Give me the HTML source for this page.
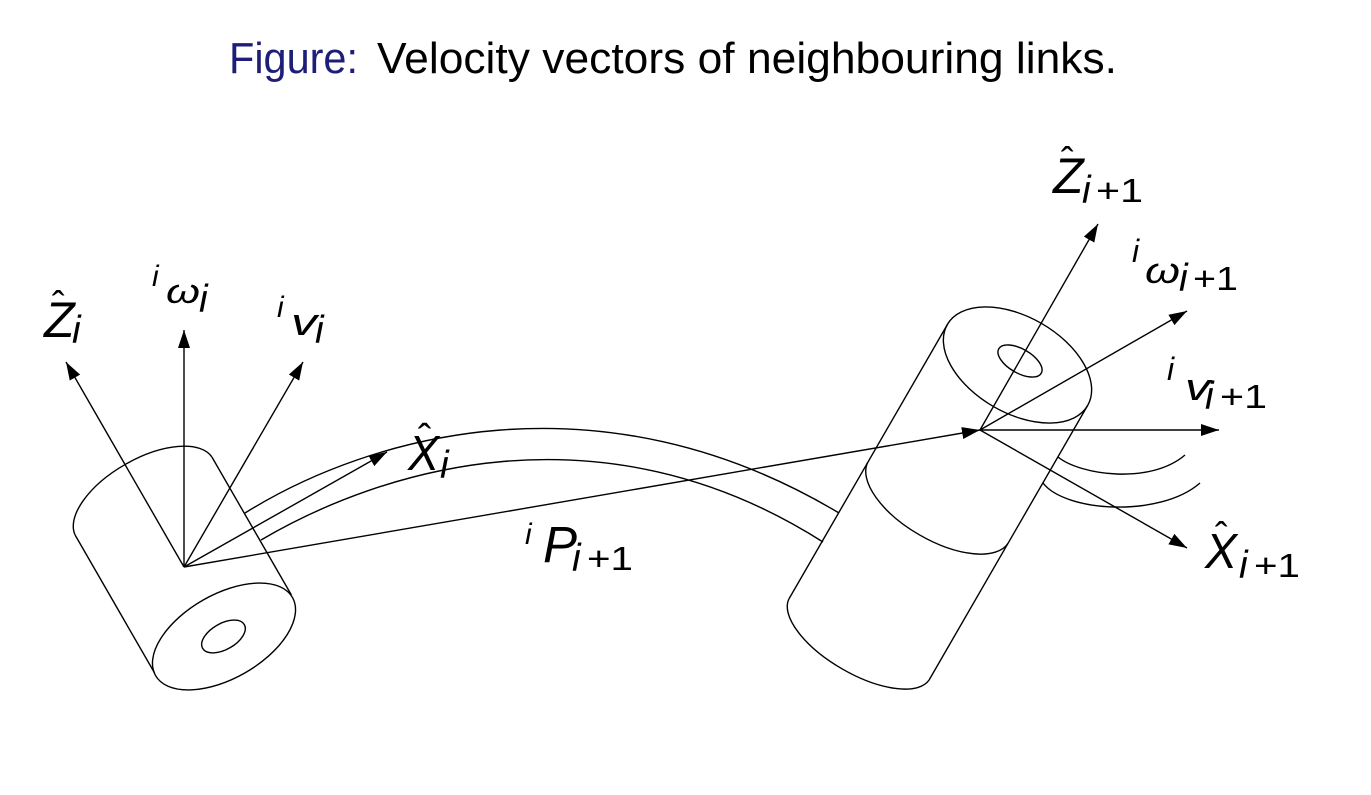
<!DOCTYPE html>
<html><head><meta charset="utf-8"><style>
html,body{margin:0;padding:0;background:#fff;}
svg{display:block;}
text{font-family:"Liberation Sans",sans-serif;fill:#000;}
.it{font-style:italic;}
</style></head><body>
<svg width="1371" height="795" viewBox="0 0 1371 795" xmlns="http://www.w3.org/2000/svg">
<defs>
<marker id="ah" markerUnits="userSpaceOnUse" markerWidth="18" markerHeight="12" refX="18" refY="6" orient="auto" viewBox="0 0 18 12">
<path d="M0,0 L18,6 L0,12 z" fill="#000"/>
</marker>
</defs>
<rect width="1371" height="795" fill="#fff"/>

<!-- Title -->
<text x="229" y="73" font-size="44" style="fill:#1e1e78" textLength="129" lengthAdjust="spacingAndGlyphs">Figure:</text>
<text x="377" y="73" font-size="44" textLength="740" lengthAdjust="spacingAndGlyphs">Velocity vectors of neighbouring links.</text>

<g fill="none" stroke="#000" stroke-width="1.4">
<!-- Left cylinder -->
<path d="M75.1,535 A78.8,38 -29.7 0 1 211.9,457"/>
<line x1="75.1" y1="535" x2="154.6" y2="673"/>
<line x1="211.9" y1="457" x2="291.4" y2="595"/>
<ellipse cx="224" cy="636.5" rx="78.8" ry="42" transform="rotate(-29.7 224 636.5)"/>
<ellipse cx="223.5" cy="636.5" rx="24" ry="13" transform="rotate(-29.7 223.5 636.5)"/>

<!-- Link tube -->
<path d="M245,513 C370,435 600,370 839,513"/>
<path d="M261,540 C380,470 600,400 823,542"/>
<path d="M1058,457 C1080,475 1150,485 1185,455"/>
<path d="M1043,483 C1065,512 1160,518 1200,483"/>

<!-- Right cylinder -->
<ellipse cx="1017.5" cy="365" rx="81" ry="48" transform="rotate(30 1017.5 365)"/>
<ellipse cx="1020" cy="361" rx="24.5" ry="12" transform="rotate(30 1020 361)"/>
<line x1="947.4" y1="324.5" x2="788.9" y2="599"/>
<line x1="1087.6" y1="405.5" x2="929.1" y2="680"/>
<path d="M867.7,462.5 A81,38 30 0 0 1007.9,543.5"/>
<path d="M788.9,599 A81,35 30 0 0 929.1,680"/>

<!-- Left arrows -->
<line x1="184" y1="567" x2="66" y2="362" marker-end="url(#ah)"/>
<line x1="184" y1="567" x2="184" y2="330" marker-end="url(#ah)"/>
<line x1="184" y1="567" x2="303" y2="362" marker-end="url(#ah)"/>
<line x1="184" y1="567" x2="387" y2="452" marker-end="url(#ah)"/>
<line x1="184" y1="567" x2="980" y2="430" marker-end="url(#ah)"/>

<!-- Right arrows -->
<line x1="980" y1="430" x2="1098" y2="224" marker-end="url(#ah)"/>
<line x1="980" y1="430" x2="1187" y2="311" marker-end="url(#ah)"/>
<line x1="980" y1="430" x2="1219" y2="430" marker-end="url(#ah)"/>
<line x1="980" y1="430" x2="1187" y2="548" marker-end="url(#ah)"/>
</g>

<!-- Left labels -->
<text x="44" y="337" font-size="50" class="it">Z</text>
<text x="52" y="318" font-size="38">ˆ</text>
<text x="72" y="343" font-size="39" class="it">i</text>

<text x="152" y="286" font-size="30" class="it">i</text>
<text x="166" y="303" font-size="34" class="it" textLength="34" lengthAdjust="spacingAndGlyphs">ω</text>
<text x="199" y="312" font-size="39" class="it">i</text>

<text x="277" y="317" font-size="30" class="it">i</text>
<text x="291" y="335" font-size="38" class="it" textLength="26" lengthAdjust="spacingAndGlyphs">v</text>
<text x="315" y="343" font-size="39" class="it">i</text>

<text x="408" y="470" font-size="49" class="it" textLength="31" lengthAdjust="spacingAndGlyphs">X</text>
<text x="418" y="452" font-size="40">ˆ</text>
<text x="440" y="478" font-size="39" class="it">i</text>

<text x="525" y="544" font-size="30" class="it">i</text>
<text x="543" y="562" font-size="51" class="it">P</text>
<text x="572" y="571" font-size="39" class="it">i</text>
<text x="587" y="570" font-size="33" textLength="46" lengthAdjust="spacingAndGlyphs">+1</text>

<!-- Right labels -->
<text x="1053" y="193" font-size="50" class="it">Z</text>
<text x="1061" y="174" font-size="38">ˆ</text>
<text x="1082" y="203" font-size="39" class="it">i</text>
<text x="1096" y="202" font-size="33" textLength="47" lengthAdjust="spacingAndGlyphs">+1</text>

<text x="1132" y="262" font-size="32" class="it">i</text>
<text x="1145" y="283" font-size="36" class="it" textLength="35" lengthAdjust="spacingAndGlyphs">ω</text>
<text x="1179" y="291" font-size="39" class="it">i</text>
<text x="1193" y="290" font-size="33" textLength="45" lengthAdjust="spacingAndGlyphs">+1</text>

<text x="1167" y="380" font-size="32" class="it">i</text>
<text x="1185" y="400" font-size="38" class="it" textLength="25" lengthAdjust="spacingAndGlyphs">v</text>
<text x="1205" y="409" font-size="39" class="it">i</text>
<text x="1220" y="408" font-size="33" textLength="47" lengthAdjust="spacingAndGlyphs">+1</text>

<text x="1205" y="568" font-size="49" class="it" textLength="32" lengthAdjust="spacingAndGlyphs">X</text>
<text x="1215" y="549" font-size="38">ˆ</text>
<text x="1239" y="578" font-size="39" class="it">i</text>
<text x="1254" y="577" font-size="33" textLength="46" lengthAdjust="spacingAndGlyphs">+1</text>
</svg>
</body></html>
